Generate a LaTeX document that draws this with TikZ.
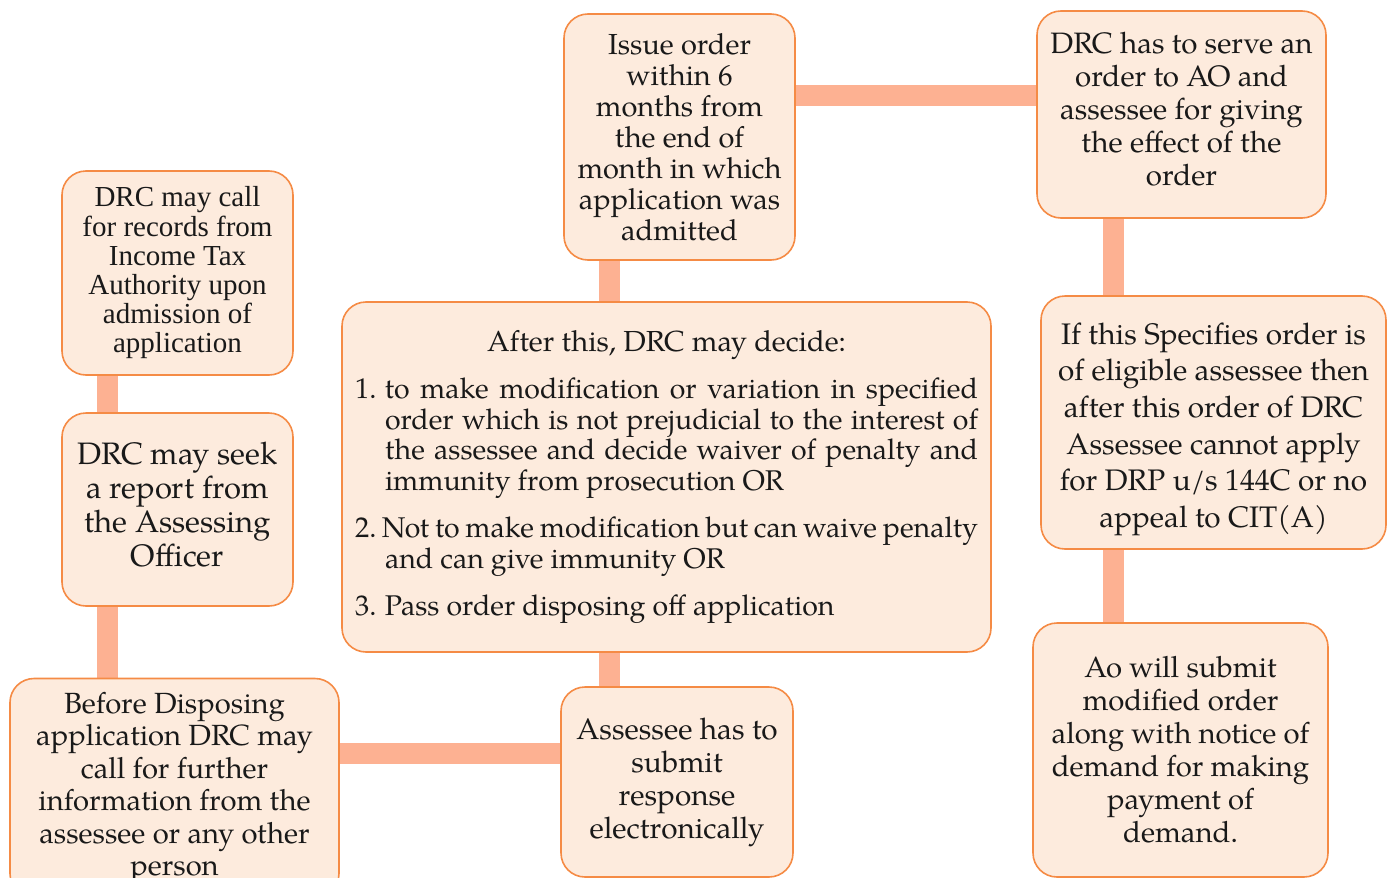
\documentclass[tikz,border=0pt]{standalone}
\usepackage{fontspec}
\setmainfont{TeX Gyre Pagella}
\newfontfamily\timesfont{Liberation Serif}
\usetikzlibrary{positioning, backgrounds}

\definecolor{boxfill}{HTML}{FDEBDD}
\definecolor{boxline}{HTML}{F58B45}
\definecolor{barcol}{HTML}{FDB192}

\begin{document}
\begin{tikzpicture}[x=1pt, y=-1pt,
        stepbox/.style={rectangle, rounded corners=24pt, draw=boxline, line width=1.6pt, fill=boxfill, align=center, inner sep=0pt, text=black!90},
        link/.style={-, line width=21pt, draw=barcol}
    ]
        \clip (0,0) rectangle (1390,878);
        \useasboundingbox (0,0) rectangle (1390,878);

        % Left column
        \node[stepbox, minimum width=231pt, minimum height=204pt, font=\timesfont\fontsize{29}{29.2}\selectfont] (records) at (177.5,273) {DRC may call\\for records from\\Income Tax\\Authority upon\\admission of\\application};
        \node[stepbox, minimum width=231pt, minimum height=193pt, font=\fontsize{31}{34}\selectfont] (report) at (177.5,509.5) {DRC may seek\\a report from\\the Assessing\\Officer\rule[-10pt]{0pt}{0pt}};
        \node[stepbox, minimum width=329pt, minimum height=219pt, font=\fontsize{29.2}{32.5}\selectfont] (info) at (174.5,788) {Before Disposing\\application DRC may\\call for further\\information from the\\assessee or any other\\person};

        % Middle column
        \node[stepbox, minimum width=231pt, minimum height=246pt, font=\fontsize{29}{31}\selectfont] (issue) at (679.5,137) {Issue order\\within 6\\months from\\the end of\\month in which\\application was\\admitted};
        \node[stepbox, minimum width=649pt, minimum height=350pt, font=\fontsize{28.5}{30.5}\selectfont] (decide) at (666.5,477) {%
            \parbox{623pt}{%
            {\centering\fontsize{29}{30.5}\selectfont After this, DRC may decide:\par}\vspace{17pt}
            \hangindent=30pt\hangafter=1\noindent\makebox[30pt][l]{1.}to make modification or variation in specified\linebreak order which is not prejudicial to the interest of\linebreak the assessee and decide waiver of penalty and\linebreak immunity from prosecution OR\par\vspace{17pt}
            \hangindent=30pt\hangafter=1\noindent\makebox[27pt][l]{2.}Not to make modification but can waive penalty\linebreak and can give immunity OR\par\vspace{17pt}
            \hangindent=30pt\hangafter=1\noindent\makebox[30pt][l]{3.}Pass order disposing off application}};
        \node[stepbox, minimum width=232pt, minimum height=190pt, font=\fontsize{29.7}{33}\selectfont] (submit) at (677,782) {Assessee has to\\submit\\response\\electronically};

        % Right column
        \node[stepbox, minimum width=289pt, minimum height=207pt, font=\fontsize{29.5}{33}\selectfont] (serve) at (1181.5,114.5) {DRC has to serve an\\order to AO and\\assessee for giving\\the effect of the\\order\rule[-12pt]{0pt}{0pt}};
        \node[stepbox, minimum width=345pt, minimum height=253pt, font=\fontsize{29.7}{36.6}\selectfont] (eligible) at (1213.5,422.5) {\rule{0pt}{35pt}If this Specifies order is\\of eligible assessee then\\after this order of DRC\\Assessee cannot apply\\for DRP u/s 144C or no\\appeal to CIT(A)};
        \node[stepbox, minimum width=295pt, minimum height=254pt, font=\fontsize{29.3}{33}\selectfont] (demand) at (1180.5,750) {Ao will submit\\modified order\\along with notice of\\demand for making\\payment of\\demand.};

        % Connectors
        \begin{scope}[on background layer]
            \draw[link] ([xshift=-70.5pt]records.south) -- ([xshift=-70.5pt]records.south |- report.north);
            \draw[link] ([xshift=-70.5pt]report.south) -- ([xshift=-70.5pt]report.south |- info.north);
            \draw[link] ([yshift=35pt]info.east) -- ([yshift=35pt]info.east -| submit.west);
            \draw[link] ([xshift=-70.5pt]issue.south) -- ([xshift=-70.5pt]issue.south |- decide.north);
            \draw[link] ([xshift=-68pt]submit.north) -- ([xshift=-68pt]submit.north |- decide.south);
            \draw[link] ([yshift=41.5pt]issue.east) -- ([yshift=41.5pt]issue.east -| serve.west);
            \draw[link] ([xshift=-68.5pt]serve.south) -- ([xshift=-68.5pt]serve.south |- eligible.north);
            \draw[link] ([xshift=-68.5pt]serve.south |- eligible.south) -- ([xshift=-68.5pt]serve.south |- demand.north);
        \end{scope}
    \end{tikzpicture}
\end{document}
